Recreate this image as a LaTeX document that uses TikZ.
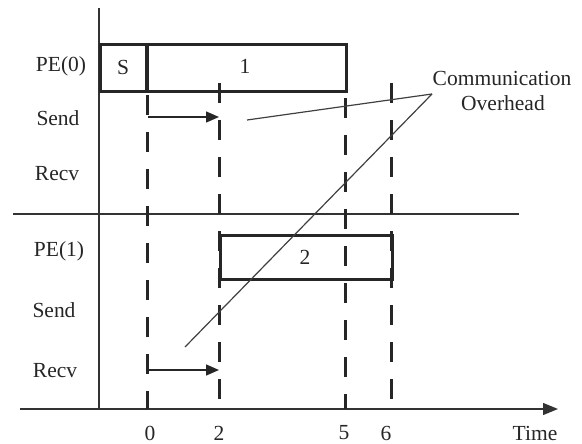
\documentclass[tikz,border=0pt]{standalone}
\usepackage{fontspec}
\setmainfont{Liberation Serif}
\usetikzlibrary{arrows.meta}
\begin{document}
\begin{tikzpicture}[x=1pt,y=-1pt,
  txt/.style={inner sep=0pt,font=\fontsize{21.5}{24}\selectfont,text=black!85},
  axisline/.style={line width=1.3pt,draw=black!80},
  boxline/.style={line width=2.6pt,draw=black!85},
  tline/.style={line width=3pt,draw=black!85,dash pattern=on 20pt off 17pt},
  thin/.style={line width=1.2pt,draw=black!75},
  msg/.style={line width=1.5pt,draw=black!85,-{Triangle[length=13pt,width=11pt]}}]
\useasboundingbox (0,0) rectangle (582,444);
% axes
\coordinate (ytop) at (99,8);
\coordinate (ybot) at (99,409);
\coordinate (xl) at (20,409);
\coordinate (xr) at (558,409);
\coordinate (ml) at (13,214);
\coordinate (mr) at (519,214);
\draw[axisline] (ytop) -- (ybot);
\draw[axisline,-{Triangle[length=15pt,width=12pt]}] (xl) -- (xr);
\draw[axisline] (ml) -- (mr);
% time lines
\coordinate (t0a) at (147,90);  \coordinate (t0b) at (147,409);
\coordinate (t2a) at (219,83);  \coordinate (t2b) at (219,409);
\coordinate (t5a) at (345,90);  \coordinate (t5b) at (345,409);
\coordinate (t6a) at (391,83);  \coordinate (t6b) at (391,409);
\draw[tline,dash phase=-5pt] (t0a) -- (t0b);
\draw[tline] (t2a) -- (t2b);
\draw[tline,dash phase=-8pt] (t5a) -- (t5b);
\draw[tline] (t6a) -- (t6b);
% boxes
\node[boxline,rectangle,minimum width=246pt,minimum height=47pt,inner sep=0pt,anchor=north west] (box0) at (99,43) {};
\draw[line width=3.4pt,draw=black!85] (147,43) -- (147,90);
\node[boxline,rectangle,minimum width=172pt,minimum height=44pt,inner sep=0pt,anchor=north west] (box1) at (219,234) {};
\node[txt] (s) at (123,67) {S};
\node[txt] (one) at (245,66) {1};
\node[txt] (two) at (305,257) {2};
% row labels
\node[txt] (pe0) at (61,66) {PE(0)};
\node[txt] (send0) at (58,118) {Send};
\node[txt] (recv0) at (57,174) {Recv};
\node[txt] (pe1) at (59,251) {PE(1)};
\node[txt] (send1) at (54,310) {Send};
\node[txt] (recv1) at (55,371) {Recv};
% messages
\coordinate (m0a) at (148,117); \coordinate (m0b) at (219,117);
\coordinate (m1a) at (148,370); \coordinate (m1b) at (219,370);
\draw[msg] (m0a) -- (m0b);
\draw[msg] (m1a) -- (m1b);
% overhead annotation
\node[txt] (co1) at (502,78) {Communication};
\node[txt] (co2) at (503,103) {Overhead};
\coordinate (apex) at (432,94);
\coordinate (e1) at (247,120);
\coordinate (e2) at (185,347);
\draw[thin] (apex) -- (e1);
\draw[thin] (apex) -- (e2);
% tick labels
\node[txt] (l0) at (150,433) {0};
\node[txt] (l2) at (219,433) {2};
\node[txt] (l5) at (344,433) {5};
\node[txt] (l6) at (386,433) {6};
\node[txt] (time) at (535,433) {Time};
\end{tikzpicture}
\end{document}
